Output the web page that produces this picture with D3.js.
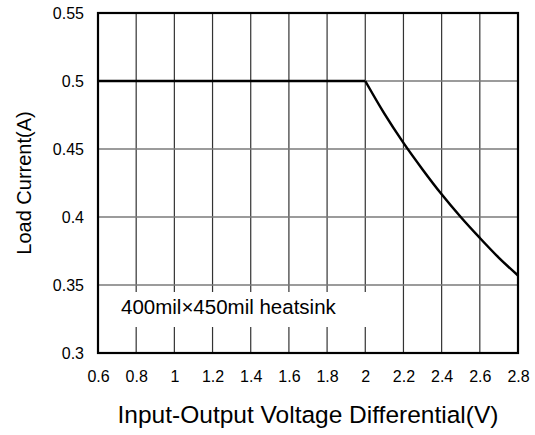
<!DOCTYPE html>
<html>
<head>
<meta charset="utf-8">
<script src="https://cdn.jsdelivr.net/npm/d3@7"></script>
<style>
  body { margin: 0; background: #fff; }
  text { font-family: Arial, "Liberation Sans", sans-serif; fill: #000; }
</style>
</head>
<body>
<svg id="viz" width="535" height="435"></svg>
<script>
// Data

// flat part up to 2 V, then the derating curve
var flatVoltage = [0.6, 2.0];
var flatCurrent = [0.5, 0.5];

var voltage = [2.0, 2.1, 2.2, 2.3, 2.4, 2.5, 2.6, 2.7, 2.8];
var current = [0.5, 0.476, 0.4545, 0.435, 0.4167, 0.4, 0.3846, 0.37, 0.357];

var xTicks = [0.6, 0.8, 1, 1.2, 1.4, 1.6, 1.8, 2, 2.2, 2.4, 2.6, 2.8];
var yTicks = [0.3, 0.35, 0.4, 0.45, 0.5, 0.55];

var xLabel = "Input-Output Voltage Differential(V)",
    yLabel = "Load Current(A)",
    note = "400mil\u00d7450mil heatsink";

// Layout

var svg = d3.select("svg"),
    width = +svg.attr("width"),
    height = +svg.attr("height");

var margin = {top: 13, right: 17, bottom: 82, left: 98};

var x = d3.scaleLinear().domain([0.6, 2.8]).range([margin.left, width - margin.right]);
var y = d3.scaleLinear().domain([0.3, 0.55]).range([height - margin.bottom, margin.top]);

var g = svg.append("g");

// Vertical grid lines
g.append("g")
  .selectAll("line")
  .data(xTicks.slice(1, -1))
  .enter().append("line")
    .attr("x1", d => x(d)).attr("x2", d => x(d))
    .attr("y1", y(0.3)).attr("y2", y(0.55))
    .attr("stroke", "#333")
    .attr("stroke-width", 1.2);

// Horizontal grid lines
g.append("g")
  .selectAll("line")
  .data(yTicks.slice(1, -1))
  .enter().append("line")
    .attr("x1", x(0.6)).attr("x2", x(2.8))
    .attr("y1", d => y(d)).attr("y2", d => y(d))
    .attr("stroke", "#7a7a7a")
    .attr("stroke-width", 1.6);

// Note box covers the grid
g.append("rect")
  .attr("x", x(0.6))
  .attr("y", 292)
  .attr("width", 272)
  .attr("height", 35)
  .attr("fill", "#fff");

g.append("text")
  .attr("x", 121)
  .attr("y", 314)
  .style("font-size", "20.5px")
  .text(note);

// Curve
var flatLine = d3.line()
  .x((d, i) => x(flatVoltage[i]))
  .y(d => y(d));

var line = d3.line()
  .x((d, i) => x(voltage[i]))
  .y(d => y(d))
  .curve(d3.curveMonotoneX);

g.append("path")
  .datum(flatCurrent)
  .attr("d", flatLine)
  .attr("fill", "none")
  .attr("stroke", "#000")
  .attr("stroke-width", 2.5);

g.append("path")
  .datum(current)
  .attr("d", line)
  .attr("fill", "none")
  .attr("stroke", "#000")
  .attr("stroke-width", 2.5);

// Frame
g.append("rect")
  .attr("x", x(0.6)).attr("y", y(0.55))
  .attr("width", x(2.8) - x(0.6))
  .attr("height", y(0.3) - y(0.55))
  .attr("fill", "none")
  .attr("stroke", "#000")
  .attr("stroke-width", 2.2);

// Axes
var xAxis = d3.axisBottom(x).tickValues(xTicks).tickSize(0).tickPadding(18)
  .tickFormat(d3.format("~g"));
svg.append("g")
  .attr("transform", "translate(0," + y(0.3) + ")")
  .call(xAxis)
  .call(a => a.select(".domain").remove())
  .selectAll("text")
    .style("font-size", "16px")
    .style("font-family", "Arial, 'Liberation Sans', sans-serif");

var yAxis = d3.axisLeft(y).tickValues(yTicks).tickSize(0).tickPadding(14)
  .tickFormat(d3.format("~g"));
svg.append("g")
  .attr("transform", "translate(" + x(0.6) + ",0)")
  .call(yAxis)
  .call(a => a.select(".domain").remove())
  .selectAll("text")
    .style("font-size", "16px")
    .style("font-family", "Arial, 'Liberation Sans', sans-serif");

// Axis titles
svg.append("text")
  .attr("x", (x(0.6) + x(2.8)) / 2)
  .attr("y", 423)
  .attr("text-anchor", "middle")
  .style("font-size", "24.5px")
  .text(xLabel);

svg.append("text")
  .attr("transform", "translate(31," + ((y(0.3) + y(0.55)) / 2) + ") rotate(-90)")
  .attr("text-anchor", "middle")
  .style("font-size", "20px")
  .text(yLabel);
</script>
</body>
</html>
